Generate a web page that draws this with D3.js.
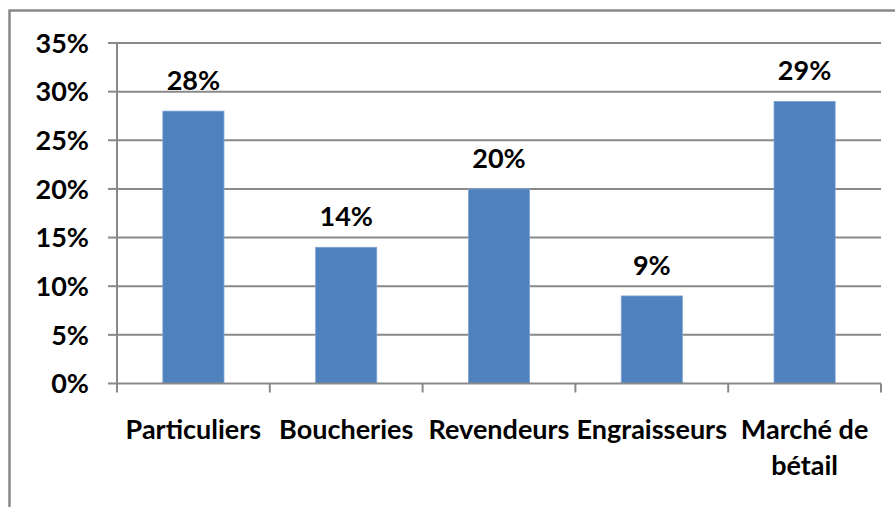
<!DOCTYPE html>
<html>
<head>
<meta charset="utf-8">
<script src="https://cdn.jsdelivr.net/npm/d3@7"></script>
<style>
  body { margin: 0; background: #fff; }
  text { font-family: Lato, "Open Sans", sans-serif; font-weight: bold; fill: #000; }
</style>
</head>
<body>
<svg id="chart" width="895" height="507"></svg>
<script>
const categories = [['Particuliers'], ['Boucheries'], ['Revendeurs'], ['Engraisseurs'], ['Marché de', 'bétail']]
const values = [0.28, 0.14, 0.20, 0.09, 0.29]
const yTicks = [0, 0.05, 0.10, 0.15, 0.20, 0.25, 0.30, 0.35]

const svg = d3.select('#chart')
const grey = '#898989'

// outer frame (cropped on the right and bottom)
svg.append('rect')
    .attr('x', 9.5).attr('y', 10.5)
    .attr('width', 900).attr('height', 520)
    .attr('fill', 'none')
    .attr('stroke', grey)
    .attr('stroke-width', 2.5)

const plotLeft = 117, plotRight = 881, plotTop = 43, plotBottom = 383.5

const x = d3.scaleBand()
    .domain(d3.range(categories.length))
    .range([plotLeft, plotRight])
    .paddingInner(0.6)
    .paddingOuter(0.3)

const bounds = d3.scaleLinear().domain([0, categories.length]).range([plotLeft, plotRight])

const y = d3.scaleLinear().domain([0, 0.35]).range([plotBottom, plotTop])

const g = svg.append('g')

// gridlines
g.selectAll('.grid').data(yTicks.slice(1))
    .enter().append('line')
    .attr('x1', plotLeft).attr('x2', plotRight)
    .attr('y1', d => y(d)).attr('y2', d => y(d))
    .attr('stroke', grey).attr('stroke-width', 2)

// bars
g.selectAll('.bar').data(values)
    .enter().append('rect')
    .attr('x', (d, i) => x(i))
    .attr('width', x.bandwidth())
    .attr('y', d => y(d))
    .attr('height', d => y(0) - y(d))
    .attr('fill', '#4F81BD')
    .attr('stroke', '#7FA3D6')
    .attr('stroke-width', 0.8)

// y axis
g.append('line')
    .attr('x1', plotLeft).attr('x2', plotLeft)
    .attr('y1', plotTop).attr('y2', plotBottom)
    .attr('stroke', grey).attr('stroke-width', 2)
g.selectAll('.ytick').data(yTicks)
    .enter().append('line')
    .attr('x1', plotLeft - 9).attr('x2', plotLeft)
    .attr('y1', d => y(d)).attr('y2', d => y(d))
    .attr('stroke', grey).attr('stroke-width', 2)
g.selectAll('.ylab').data(yTicks)
    .enter().append('text')
    .attr('x', 89)
    .attr('y', d => y(d))
    .attr('dy', '0.36em')
    .attr('text-anchor', 'end')
    .attr('font-size', 27)
    .text(d3.format('.0%'))

// x axis
g.append('line')
    .attr('x1', plotLeft).attr('x2', plotRight)
    .attr('y1', plotBottom).attr('y2', plotBottom)
    .attr('stroke', grey).attr('stroke-width', 2)
g.selectAll('.xtick').data(d3.range(categories.length + 1))
    .enter().append('line')
    .attr('x1', d => bounds(d)).attr('x2', d => bounds(d))
    .attr('y1', plotBottom).attr('y2', plotBottom + 9)
    .attr('stroke', grey).attr('stroke-width', 2)

const xl = g.selectAll('.xlab').data(categories)
    .enter().append('text')
    .attr('text-anchor', 'middle')
    .attr('font-size', 27)
xl.selectAll('tspan').data((d, i) => d.map(s => ({ s, i })))
    .enter().append('tspan')
    .attr('x', d => x(d.i) + x.bandwidth() / 2)
    .attr('y', (d, j) => 439 + j * 36)
    .text(d => d.s)

// value labels
g.selectAll('.vlab').data(values)
    .enter().append('text')
    .attr('x', (d, i) => x(i) + x.bandwidth() / 2)
    .attr('y', d => y(d) - 21)
    .attr('text-anchor', 'middle')
    .attr('font-size', 27)
    .text(d3.format('.0%'))
</script>
</body>
</html>
